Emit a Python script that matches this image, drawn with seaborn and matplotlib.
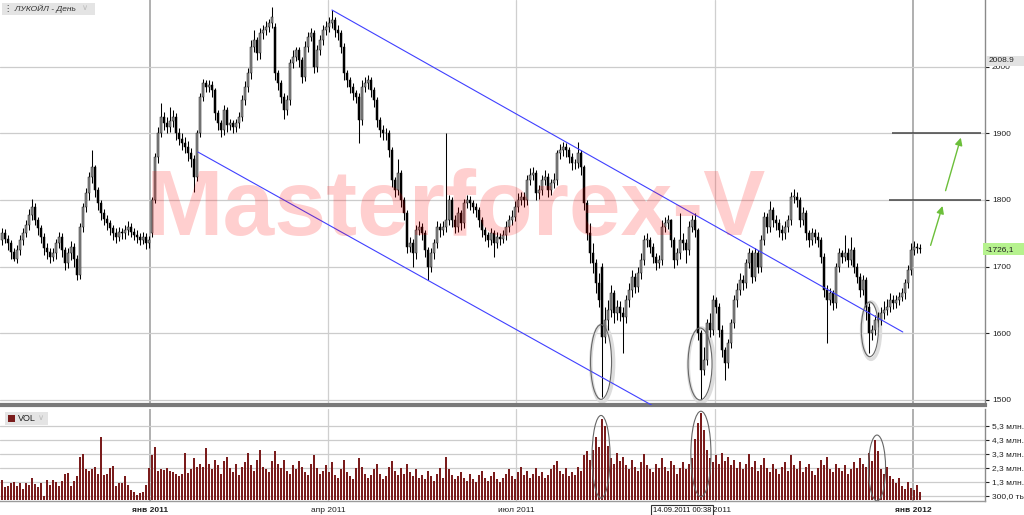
import pandas as pd
import matplotlib.pyplot as plt
import seaborn as sns
from matplotlib.patches import Ellipse, FancyArrowPatch, Rectangle

# Dados (velas diárias, ЛУКОЙЛ)
aberturas = [
    1740, 1750, 1742, 1735, 1722, 1712, 1725, 1740, 1750, 1762,
    1778, 1790, 1770, 1758, 1745, 1728, 1722, 1715, 1720, 1735,
    1745, 1725, 1705, 1720, 1730, 1712, 1688, 1760, 1790, 1810,
    1835, 1850, 1815, 1795, 1780, 1772, 1765, 1758, 1750, 1745,
    1752, 1750, 1755, 1760, 1752, 1748, 1745, 1740, 1745, 1735,
    1750, 1800, 1865, 1900, 1925, 1915, 1910, 1918, 1925, 1900,
    1892, 1885, 1880, 1870, 1862, 1835, 1900, 1955, 1975, 1970,
    1972, 1965, 1930, 1915, 1905, 1935, 1912, 1915, 1910, 1915,
    1925, 1950, 1970, 1990, 2030, 2040, 2020, 2050, 2055, 2060,
    2065, 2060, 1990, 1975, 1955, 1935, 1950, 2005, 2015, 2025,
    2010, 1985, 2030, 2045, 2050, 2000, 2025, 2040, 2055, 2060,
    2065, 2070, 2055, 2050, 2030, 1990, 1980, 1970, 1960, 1955,
    1920, 1970, 1975, 1980, 1965, 1950, 1920, 1905, 1900, 1900,
    1875, 1830, 1815, 1840, 1800, 1780, 1730, 1735, 1720, 1755,
    1760, 1750, 1725, 1700, 1720, 1735, 1760, 1755, 1760, 1770,
    1800, 1770, 1760, 1780, 1765, 1795, 1800, 1795, 1790, 1785,
    1770, 1755, 1748, 1740, 1750, 1735, 1745, 1742, 1748, 1760,
    1770, 1775, 1790, 1800, 1805, 1800, 1830, 1838, 1840, 1810,
    1815, 1830, 1835, 1815, 1825, 1830, 1870, 1875, 1880, 1875,
    1865, 1855, 1855, 1870, 1850, 1795, 1750, 1720, 1705, 1675,
    1700, 1595, 1620, 1635, 1660, 1630, 1640, 1630, 1625, 1650,
    1665, 1685, 1670, 1690, 1710, 1740, 1740, 1730, 1715, 1705,
    1710, 1760, 1765, 1770, 1740, 1710, 1720, 1740, 1735, 1725,
    1760, 1770, 1755, 1600, 1545, 1560, 1615, 1605, 1650, 1640,
    1605, 1575, 1555, 1585, 1615, 1650, 1665, 1680, 1675, 1705,
    1720, 1685, 1720, 1700, 1740, 1775, 1760, 1785, 1770, 1765,
    1755, 1750, 1760, 1770, 1805, 1805, 1800, 1770, 1780, 1750,
    1740, 1750, 1745, 1740, 1715, 1665, 1650, 1660, 1645, 1700,
    1720, 1715, 1720, 1710, 1725, 1700, 1685, 1665, 1680, 1640,
    1600, 1605, 1620, 1620, 1630, 1635, 1640, 1650, 1645, 1650,
    1655, 1660, 1675, 1695, 1725, 1730, 1728]

maximas = [
    1758, 1756, 1748, 1740, 1728, 1732, 1748, 1758, 1770, 1786,
    1801, 1795, 1775, 1762, 1750, 1735, 1728, 1728, 1742, 1752,
    1750, 1730, 1728, 1738, 1735, 1718, 1765, 1795, 1818, 1842,
    1875, 1852, 1820, 1800, 1786, 1778, 1770, 1762, 1758, 1760,
    1758, 1762, 1768, 1765, 1758, 1755, 1750, 1752, 1750, 1746,
    1805, 1870, 1910, 1945, 1932, 1925, 1940, 1935, 1930, 1908,
    1900, 1895, 1888, 1878, 1868, 1905, 1960, 1981, 1980, 1980,
    1978, 1968, 1935, 1920, 1942, 1940, 1922, 1920, 1922, 1932,
    1958, 1978, 1998, 2040, 2055, 2045, 2058, 2062, 2068, 2072,
    2090, 2065, 1995, 1980, 1960, 1958, 2012, 2025, 2030, 2030,
    2015, 2038, 2052, 2058, 2055, 2032, 2048, 2062, 2068, 2075,
    2085, 2075, 2062, 2055, 2035, 1995, 1985, 1975, 1965, 1960,
    1980, 1985, 1988, 1985, 1970, 1955, 1925, 1912, 1908, 1905,
    1880, 1835, 1862, 1845, 1805, 1785, 1745, 1742, 1762, 1768,
    1765, 1755, 1730, 1728, 1742, 1768, 1765, 1768, 1900, 1808,
    1805, 1778, 1790, 1785, 1802, 1808, 1806, 1800, 1795, 1790,
    1775, 1760, 1752, 1758, 1755, 1752, 1750, 1755, 1768, 1778,
    1785, 1798, 1810, 1812, 1812, 1838, 1848, 1850, 1845, 1822,
    1838, 1845, 1840, 1832, 1840, 1875, 1884, 1887, 1885, 1880,
    1870, 1862, 1887, 1875, 1852, 1800, 1765, 1735, 1712, 1690,
    1705, 1640, 1650, 1672, 1665, 1650, 1648, 1640, 1658, 1675,
    1695, 1690, 1700, 1720, 1748, 1750, 1745, 1735, 1720, 1718,
    1770, 1774, 1778, 1772, 1745, 1728, 1780, 1750, 1742, 1768,
    1778, 1780, 1758, 1605, 1580, 1622, 1630, 1658, 1655, 1645,
    1612, 1580, 1592, 1622, 1658, 1675, 1690, 1688, 1712, 1728,
    1725, 1728, 1725, 1748, 1782, 1780, 1798, 1790, 1778, 1772,
    1762, 1768, 1778, 1812, 1817, 1812, 1805, 1790, 1785, 1755,
    1758, 1756, 1752, 1745, 1720, 1672, 1668, 1665, 1705, 1728,
    1725, 1748, 1728, 1745, 1730, 1705, 1690, 1688, 1685, 1645,
    1612, 1628, 1632, 1640, 1648, 1652, 1660, 1658, 1658, 1662,
    1668, 1682, 1702, 1735, 1738, 1736, 1734]

minimas = [
    1732, 1735, 1725, 1712, 1708, 1706, 1718, 1732, 1744, 1755,
    1770, 1762, 1748, 1735, 1718, 1712, 1706, 1708, 1712, 1728,
    1715, 1695, 1698, 1710, 1700, 1680, 1682, 1752, 1782, 1800,
    1825, 1805, 1785, 1770, 1762, 1755, 1748, 1740, 1735, 1738,
    1742, 1742, 1748, 1744, 1740, 1736, 1732, 1734, 1726, 1728,
    1745, 1795, 1855, 1895, 1905, 1900, 1902, 1910, 1890, 1882,
    1875, 1870, 1858, 1850, 1812, 1828, 1895, 1948, 1962, 1962,
    1955, 1920, 1905, 1895, 1898, 1902, 1905, 1900, 1902, 1908,
    1918, 1942, 1962, 1982, 2022, 2010, 2012, 2042, 2048, 2052,
    2058, 1980, 1965, 1945, 1922, 1928, 1942, 1998, 2008, 2000,
    1975, 1978, 2022, 2038, 1990, 1992, 2018, 2032, 2048, 2052,
    2058, 2045, 2040, 2020, 1980, 1970, 1960, 1950, 1945, 1885,
    1912, 1962, 1966, 1955, 1940, 1910, 1895, 1890, 1890, 1865,
    1820, 1805, 1808, 1790, 1770, 1720, 1722, 1700, 1712, 1748,
    1740, 1715, 1680, 1692, 1712, 1728, 1745, 1748, 1752, 1762,
    1760, 1750, 1752, 1755, 1758, 1788, 1785, 1780, 1775, 1760,
    1745, 1738, 1730, 1732, 1715, 1728, 1732, 1735, 1740, 1752,
    1762, 1768, 1782, 1792, 1790, 1792, 1822, 1830, 1800, 1802,
    1808, 1822, 1805, 1808, 1818, 1822, 1862, 1866, 1865, 1855,
    1845, 1846, 1848, 1838, 1785, 1740, 1705, 1690, 1660, 1640,
    1505, 1585, 1605, 1625, 1615, 1620, 1618, 1570, 1615, 1640,
    1655, 1660, 1662, 1682, 1702, 1730, 1720, 1705, 1695, 1698,
    1702, 1752, 1756, 1730, 1698, 1702, 1712, 1725, 1705, 1718,
    1752, 1745, 1590, 1502, 1538, 1552, 1595, 1598, 1630, 1595,
    1565, 1530, 1548, 1578, 1608, 1640, 1658, 1665, 1668, 1698,
    1675, 1678, 1690, 1692, 1732, 1750, 1752, 1760, 1755, 1745,
    1740, 1742, 1752, 1762, 1795, 1790, 1760, 1762, 1740, 1730,
    1732, 1735, 1730, 1705, 1655, 1585, 1642, 1635, 1638, 1692,
    1705, 1708, 1700, 1702, 1690, 1675, 1655, 1658, 1620, 1570,
    1590, 1598, 1610, 1612, 1622, 1628, 1632, 1636, 1638, 1642,
    1648, 1652, 1668, 1688, 1718, 1720, 1720]

fechamentos = [
    1750, 1742, 1735, 1722, 1712, 1725, 1740, 1750, 1762, 1778,
    1790, 1770, 1758, 1745, 1728, 1722, 1715, 1720, 1735, 1745,
    1725, 1705, 1720, 1730, 1712, 1688, 1760, 1790, 1810, 1835,
    1850, 1815, 1795, 1780, 1772, 1765, 1758, 1750, 1745, 1752,
    1750, 1755, 1760, 1752, 1748, 1745, 1740, 1745, 1735, 1740,
    1800, 1865, 1900, 1925, 1915, 1910, 1918, 1925, 1900, 1892,
    1885, 1880, 1870, 1862, 1835, 1900, 1955, 1975, 1970, 1972,
    1965, 1930, 1915, 1905, 1935, 1912, 1915, 1910, 1915, 1925,
    1950, 1970, 1990, 2030, 2040, 2020, 2050, 2055, 2060, 2065,
    2075, 1990, 1975, 1955, 1935, 1950, 2005, 2015, 2025, 2010,
    1985, 2030, 2045, 2050, 2000, 2025, 2040, 2055, 2060, 2065,
    2070, 2055, 2050, 2030, 1990, 1980, 1970, 1960, 1955, 1920,
    1970, 1975, 1980, 1965, 1950, 1920, 1905, 1900, 1900, 1875,
    1830, 1815, 1840, 1800, 1780, 1730, 1735, 1720, 1755, 1760,
    1750, 1725, 1700, 1720, 1735, 1760, 1755, 1760, 1770, 1800,
    1770, 1760, 1780, 1765, 1795, 1800, 1795, 1790, 1785, 1770,
    1755, 1748, 1740, 1750, 1735, 1745, 1742, 1748, 1760, 1770,
    1775, 1790, 1800, 1805, 1800, 1830, 1838, 1840, 1810, 1815,
    1830, 1835, 1815, 1825, 1830, 1870, 1875, 1880, 1875, 1865,
    1855, 1855, 1870, 1850, 1795, 1750, 1720, 1705, 1675, 1650,
    1595, 1620, 1635, 1660, 1630, 1640, 1630, 1625, 1650, 1665,
    1685, 1670, 1690, 1710, 1740, 1740, 1730, 1715, 1705, 1710,
    1760, 1765, 1770, 1740, 1710, 1720, 1740, 1735, 1725, 1760,
    1770, 1755, 1600, 1545, 1560, 1615, 1605, 1650, 1640, 1605,
    1575, 1555, 1585, 1615, 1650, 1665, 1680, 1675, 1705, 1720,
    1685, 1720, 1700, 1740, 1775, 1760, 1785, 1770, 1765, 1755,
    1750, 1760, 1770, 1805, 1805, 1800, 1770, 1780, 1750, 1740,
    1750, 1745, 1740, 1715, 1665, 1650, 1660, 1645, 1700, 1720,
    1715, 1720, 1710, 1725, 1700, 1685, 1665, 1680, 1640, 1600,
    1605, 1620, 1620, 1630, 1635, 1640, 1650, 1645, 1650, 1655,
    1660, 1675, 1695, 1725, 1730, 1728, 1726.1]

# volume em milhões
volumes = [
    1.43, 0.95, 0.98, 1.19, 1.31, 0.98, 1.19, 0.83, 1.19, 1.1,
    1.57, 1.15, 0.95, 1.19, 0.3, 1.43, 1.1, 1.43, 1.31, 1.0,
    1.35, 1.86, 1.95, 1.0, 1.35, 1.7, 3.05, 3.33, 2.2, 2.07,
    2.26, 2.36, 1.9, 4.52, 1.83, 1.86, 2.33, 2.45, 0.98, 1.19,
    1.19, 1.69, 1.1, 0.76, 0.6, 0.36, 0.48, 0.57, 1.07, 2.33,
    3.2, 3.8, 2.1, 2.2, 2.14, 2.33, 2.07, 2.0, 1.9, 1.69,
    1.9, 3.38, 1.95, 2.2, 3.0, 2.4, 2.6,
    2.4, 3.7, 2.6, 2.2, 2.9, 2.5, 1.9, 2.8, 3.1, 2.3,
    2.0, 2.6, 1.8, 2.4, 2.7, 3.4, 2.5, 2.1, 2.9, 3.6,
    2.4, 2.2, 2.0, 2.8, 3.5, 2.6, 2.3, 2.9, 2.1, 1.9,
    2.5, 2.2, 2.8,
    2.4, 2.0, 1.8, 2.6, 3.2, 2.3, 1.9, 2.1, 2.5, 2.0,
    2.7, 1.8, 1.6, 2.2, 2.9, 2.0, 1.7, 1.5, 2.3, 3.0,
    2.4, 1.9, 1.6, 1.8, 2.2, 2.6, 1.9, 1.5, 1.7, 2.4,
    2.8, 2.1, 1.8, 2.3, 1.9, 2.6, 2.0, 1.7, 2.2, 1.6,
    1.8, 1.5, 2.1, 1.7, 1.4, 1.9, 2.3, 1.6, 3.1, 2.2,
    1.8, 1.5, 1.7, 2.0, 1.6, 1.4, 1.9, 1.5, 1.3, 1.8,
    2.1, 1.6, 1.4, 1.7, 2.0, 1.5, 1.3, 1.6, 1.9, 2.2,
    1.7, 1.5, 2.0, 2.4, 1.8, 2.1, 1.6, 1.9, 2.3, 1.7,
    2.0, 1.6, 1.8, 2.2, 2.5, 2.8, 2.1, 1.9, 2.3, 1.7,
    2.0, 1.8, 2.4, 2.1, 3.2, 3.5, 2.9, 3.6, 4.5, 3.8,
    5.8, 5.3, 3.9, 3.0, 2.6, 3.4, 2.8, 3.1, 2.5, 2.2,
    2.9, 2.4, 2.1, 2.7, 3.3, 2.5, 2.2, 2.0, 2.6, 2.3,
    3.0, 2.4, 2.1, 2.8, 2.5, 1.9, 2.3, 2.7, 2.2, 2.6,
    3.0, 4.4, 5.5, 6.2, 5.0, 3.6, 3.0, 2.7, 3.2, 2.6,
    3.4, 2.8, 3.1, 2.5, 2.9, 2.3, 2.7, 2.2, 2.6, 3.3,
    2.4, 2.8, 2.1, 2.5, 3.0, 2.3, 2.0, 2.6, 2.2, 1.9,
    2.4, 2.7, 2.1, 3.2, 2.5, 2.2, 2.8, 2.0, 2.4, 2.6,
    2.1, 1.8, 2.3, 2.9, 2.5, 3.1, 2.2, 2.0, 2.6, 2.3,
    2.1, 2.5, 1.9, 2.2, 2.7, 2.3, 3.0, 2.6, 2.4, 3.4,
    2.8, 4.3, 3.5, 2.2, 1.9, 2.4, 1.7, 1.5, 1.2, 1.6,
    1.0, 0.8, 1.3, 0.9, 0.7, 1.1, 0.6]

# posições (índice da barra) dos inícios de trimestre
pos_meses = [49.3, 108.7, 171.3, 237.7, 303.7]
rotulos_meses = ['янв 2011', 'апр 2011', 'июл 2011', 'окт 2011', 'янв 2012']
niveis_preco = [1500, 1600, 1700, 1800, 1900, 2000]
niveis_volume = [0.3, 1.3, 2.3, 3.3, 4.3, 5.3]
rotulos_volume = ['300,0 тыс', '1,3 млн.', '2,3 млн.', '3,3 млн.', '4,3 млн.', '5,3 млн.']

df = pd.DataFrame({'open': aberturas, 'high': maximas, 'low': minimas,
                   'close': fechamentos, 'vol': volumes})
df['idx'] = range(len(df))

sns.set_style("white")
plt.rcParams['font.family'] = ['Liberation Sans', 'DejaVu Sans']

fig = plt.figure(figsize=(10.24, 5.15), dpi=100)
ax = fig.add_axes([0, 110 / 515, 985 / 1024, 405 / 515])
axv = fig.add_axes([0, 14 / 515, 985 / 1024, 92 / 515])

x_min, x_max = -0.67, 327.7

# Grade
for a in (ax, axv):
    for p, r in zip(pos_meses, rotulos_meses):
        escuro = r.startswith('янв')
        a.axvline(p, color='#9a9a9a' if escuro else '#cfcfcf', lw=1.1 if escuro else 0.9, zorder=0)
for n in niveis_preco:
    ax.axhline(n, color='#cccccc', lw=0.9, zorder=0)
for n in niveis_volume:
    axv.axhline(n, color='#cccccc', lw=0.9, zorder=0)

# Velas
sobe = df['close'] >= df['open']
base = df[['open', 'close']].min(axis=1)
altura = (df['close'] - df['open']).abs().clip(lower=1.2)
ax.vlines(df['idx'], df['low'], df['high'], color='black', lw=0.75, zorder=3)
ax.bar(df['idx'][sobe], altura[sobe], bottom=base[sobe], width=0.75,
       color='#8e8e8e', edgecolor='#1a1a1a', linewidth=0.35, zorder=4)
ax.bar(df['idx'][~sobe], altura[~sobe], bottom=base[~sobe], width=0.75,
       color='black', edgecolor='black', linewidth=0.35, zorder=4)

# Canal descendente
ax.plot([110, 300.3], [2085, 1602], color='#4040ff', lw=0.8, zorder=5)
ax.plot([65.3, 217.7], [1872, 1489.5], color='#4040ff', lw=0.8, zorder=5)

# Alvos e setas
ax.hlines([1900, 1800], [296.7, 295.7], 326.3, color='#444444', lw=1.1, zorder=5)
for x0, y0, x1, y1 in [(309.3, 1728, 313.8, 1795), (314.3, 1810, 319.9, 1897.5)]:
    ax.add_patch(FancyArrowPatch((x0, y0), (x1, y1), arrowstyle='-|>', mutation_scale=11,
                                 color='#6cbf3a', lw=1.0, zorder=6))

# Elipses
for cx, cy, w, h in [(199.7, 1557, 7, 112), (232.7, 1554, 8, 108), (289.3, 1606, 5.7, 82)]:
    ax.add_patch(Ellipse((cx + 0.4, cy - 2), w + 0.6, h + 4, fill=False, edgecolor='#dddddd', lw=2.5, zorder=2))
    ax.add_patch(Ellipse((cx, cy), w, h, fill=False, edgecolor='#666666', lw=0.8, zorder=6))
for cx, cy, w, h in [(199.7, 3.1, 6, 5.9), (233.0, 3.3, 6.7, 6.1), (291.7, 2.3, 5.7, 4.7)]:
    axv.add_patch(Ellipse((cx, cy), w, h, fill=False, edgecolor='#666666', lw=0.8, zorder=6))

# Marca d'água
ax.text(151.3, 1747.5, 'Masterforex-V', fontsize=67, fontweight='bold', color='#ff0000',
        alpha=0.19, ha='center', va='baseline', family='Liberation Sans', zorder=7)

# Volume
sns.barplot(x=df['idx'], y=df['vol'], native_scale=True, color='#7a1c1c', saturation=1,
            width=0.5, errorbar=None, linewidth=0, ax=axv, zorder=3)

# Eixos
ax.set_xlim(x_min, x_max)
ax.set_ylim(1492.5, 2100)
axv.set_xlim(x_min, x_max)
axv.set_ylim(-0.06, 6.51)

ax.yaxis.tick_right()
ax.set_yticks(niveis_preco)
ax.set_yticklabels([str(n) for n in niveis_preco])
ax.set_xticks([])
ax.tick_params(axis='y', length=3, width=0.8, pad=2, labelsize=6, colors='#222222')

axv.yaxis.tick_right()
axv.set_yticks(niveis_volume)
axv.set_yticklabels(rotulos_volume)
axv.tick_params(axis='y', length=3, width=0.8, pad=2, labelsize=6, colors='#222222')
axv.set_xticks(pos_meses)
axv.set_xticklabels(rotulos_meses)
axv.tick_params(axis='x', length=2, pad=2, labelsize=6, colors='#222222')
for t in axv.get_xticklabels():
    if t.get_text().startswith('янв'):
        t.set_fontweight('bold')
axv.set_xlabel('')
axv.set_ylabel('')
ax.set_xlabel('')
ax.set_ylabel('')

for a in (ax, axv):
    a.spines['left'].set_visible(False)
    a.spines['right'].set_color('#8a8a8a')
    a.spines['right'].set_linewidth(1.0)
ax.spines['top'].set_visible(False)
ax.spines['bottom'].set_color('#7a7a7a')
ax.spines['bottom'].set_linewidth(3.0)
axv.spines['top'].set_visible(False)
axv.spines['bottom'].set_color('#9a9a9a')
axv.spines['bottom'].set_linewidth(1.0)

# Rótulos de preço destacados (caixas até a borda direita)
ax.add_patch(Rectangle((986 / 1024, (515 - 66) / 515), 38 / 1024, 10 / 515, transform=fig.transFigure,
                       facecolor='#e2e2e2', edgecolor='none', clip_on=False, zorder=10))
ax.add_patch(Rectangle((983 / 1024, (515 - 255) / 515), 41 / 1024, 12 / 515, transform=fig.transFigure,
                       facecolor='#b6f28e', edgecolor='none', clip_on=False, zorder=10))
tr = ax.get_yaxis_transform()
ax.text(1.004, 2008.9, '2008.9', transform=tr, fontsize=6, va='center', color='#222222',
        zorder=11, clip_on=False)
ax.text(1.001, 1726.1, '-1726,1', transform=tr, fontsize=6, va='center', color='#222222',
        zorder=11, clip_on=False)

# Legendas dos painéis
ax.add_patch(Rectangle((2 / 985, 390 / 405), 93 / 985, 12 / 405, transform=ax.transAxes,
                       facecolor='#e4e4e4', edgecolor='none', zorder=9))
ax.text(4 / 985, 396 / 405, '⋮ ЛУКОЙЛ - День', transform=ax.transAxes, fontsize=6,
        style='italic', va='center', color='#333333', zorder=10)
ax.text(82 / 985, 396 / 405, '∨', transform=ax.transAxes, fontsize=6, va='center',
        color='#bbbbbb', zorder=10)
axv.add_patch(Rectangle((5 / 985, 76 / 92), 43 / 985, 13 / 92, transform=axv.transAxes,
                        facecolor='#e4e4e4', edgecolor='none', zorder=9))
axv.add_patch(Rectangle((8 / 985, 79 / 92), 7 / 985, 7 / 92, transform=axv.transAxes,
                        facecolor='#7a1c1c', edgecolor='none', zorder=10))
axv.text(18 / 985, 82.5 / 92, 'VOL', transform=axv.transAxes, fontsize=6.5, va='center',
         color='#222222', zorder=10)
axv.text(38 / 985, 82.5 / 92, '∨', transform=axv.transAxes, fontsize=6, va='center',
         color='#bbbbbb', zorder=10)

# Caixa do cursor (cobre parte do rótulo de outubro, como no original)
fig.text(653 / 1024, 5 / 515, '14.09.2011 00:38', fontsize=5.5, va='center', ha='left', color='#111111',
         bbox=dict(facecolor='white', edgecolor='#333333', pad=1.2, linewidth=0.8), zorder=12)

fig.savefig('out.png', dpi=100)
